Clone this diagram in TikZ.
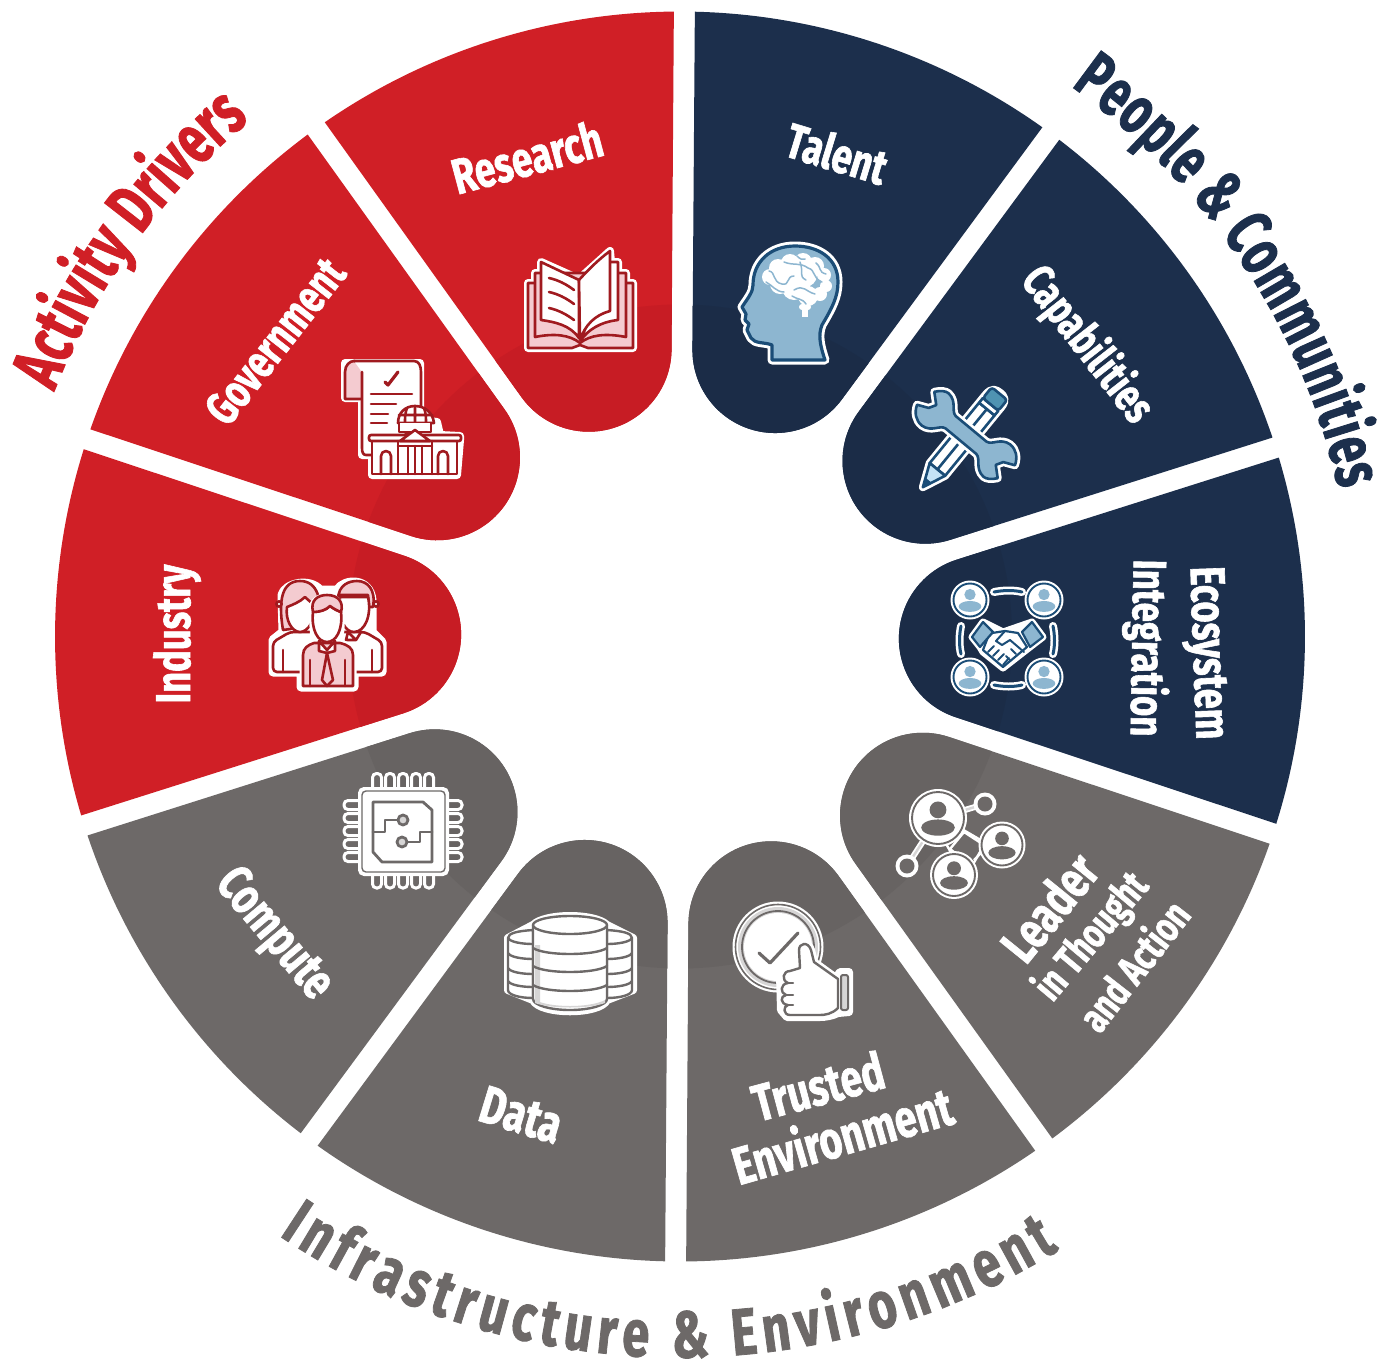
\documentclass[tikz,border=0pt]{standalone}
\usepackage{fontspec}
\newfontfamily\lab[FakeStretch=0.74,FakeBold=1.2]{Fira Sans}
\newfontfamily\labn[FakeStretch=0.68,FakeBold=1.2]{Fira Sans}
\usetikzlibrary{decorations.text,calc}
\definecolor{actred}{HTML}{D01F26}
\definecolor{actredin}{HTML}{C71C24}
\definecolor{navy}{HTML}{1C2F4C}
\definecolor{navyin}{HTML}{1B2C47}
\definecolor{gry}{HTML}{6D6968}
\definecolor{gryin}{HTML}{676362}
\definecolor{icred}{HTML}{A01A1F}
\definecolor{ictint}{HTML}{F4CBD0}
\definecolor{icblue}{HTML}{1B4D77}
\definecolor{iclight}{HTML}{8DB6D0}
\definecolor{icmid}{HTML}{4F93B2}
\definecolor{icpale}{HTML}{C5E3F6}
\definecolor{ictintg}{HTML}{D6D5D5}
\tikzset{
 hal/.style={draw=white,fill=white,line width=#1,line join=round,line cap=round},
 hal/.default=8,
 rl/.style={draw=icred,line width=2.6,line join=round,line cap=round},
 bl/.style={draw=icblue,line width=2.6,line join=round,line cap=round},
 gl/.style={draw=gry,line width=2.4,line join=round,line cap=round},
 lbl/.style={text=white,inner sep=0pt,font=\lab\bfseries\fontsize{#1}{#1}\selectfont},
 lbl/.default=50
}
\newcommand\petal[3]{%
 \pgfmathsetmacro\oa{#1+18-0.963}%
 \pgfmathsetmacro\ob{#1-18+0.963}%
 \pgfmathsetmacro\ca{#1-108}%
 \pgfmathsetmacro\cb{#1-252}%
 \fill[#2] (\oa:625) arc[start angle=\oa,end angle=\ob,radius=625] -- ($(#1:301.7)+(\ca:82.8)$) arc[start angle=\ca,end angle=\cb,radius=82.8] -- cycle;
 \begin{scope}
 \clip (\oa:625) arc[start angle=\oa,end angle=\ob,radius=625] -- ($(#1:301.7)+(\ca:82.8)$) arc[start angle=\ca,end angle=\cb,radius=82.8] -- cycle;
 \fill[#3] (0,0) circle[radius=332];
 \end{scope}}
% person in a ring: x y R ring-colour body-colour
\newcommand\ppl[5]{%
 \fill[white] (#1,#2) circle[radius=#3];
 \draw[#4,line width=1.9] (#1,#2) circle[radius=#3-3];
 \fill[#5] (#1,#2-0.28*#3) circle[radius=0.29*#3];
 \fill[#5] (#1,#2+0.33*#3) ellipse[x radius=0.58*#3,y radius=0.28*#3];}
\begin{document}
\begin{tikzpicture}[x=1pt,y=-1pt]
\useasboundingbox (0,0) rectangle (1393,1363);
\fill[white] (0,0) rectangle (1393,1363);
\begin{scope}[shift={(680,636.5)},y=1pt]
 \petal{107.6}{actred}{actredin}
 \petal{143.6}{actred}{actredin}
 \petal{179.6}{actred}{actredin}
 \petal{71.6}{navy}{navyin}
 \petal{35.6}{navy}{navyin}
 \petal{-0.4}{navy}{navyin}
 \petal{-36.4}{gry}{gryin}
 \petal{-72.4}{gry}{gryin}
 \petal{-108.4}{gry}{gryin}
 \petal{-144.4}{gry}{gryin}
 \path[decorate,decoration={text along path,text color=actred,text align={fit to path},
   text={|\labn\bfseries\fontsize{70}{70}\selectfont|Activity Drivers}}]
   (158.6:672) arc[start angle=158.6,end angle=129.8,radius=672];
 \path[decorate,decoration={text along path,text color=navy,text align={fit to path},
   text={|\labn\bfseries\fontsize{67}{67}\selectfont|People {\&} Communities}}]
   (54.6:675) arc[start angle=54.6,end angle=12.6,radius=675];
 \path[decorate,decoration={text along path,text color=gry,text align={fit to path},
   text={|\lab\bfseries\fontsize{66}{66}\selectfont|Infrastructure {\&} Environment}}]
   (-123.8:721) arc[start angle=-123.8,end angle=-58.3,radius=721];
\end{scope}
% wedge labels
\node[lbl,rotate=15] (research) at (527,157) {Research};
\node[lbl=49,rotate=-17] (talent) at (837,153) {Talent};
\node[lbl=47,rotate=52] (government) at (275,341) {Government};
\node[lbl=46,rotate=-52] (capabilities) at (1087,345) {Capabilities};
\node[lbl=49,rotate=-88] (ecosystem) at (1205,653) {Ecosystem};
\node[lbl=47,rotate=-91] (integration) at (1146,648) {Integration};
\node[lbl=49,rotate=90] (industry) at (177,634) {Industry};
\node[lbl=52,rotate=51] (leader) at (1049,907) {Leader};
\node[lbl=42,rotate=50] (thought) at (1092,937) {in Thought};
\node[lbl=42,rotate=52] (action) at (1133,965) {and Action};
\node[lbl=52,rotate=15] (trusted) at (818,1086) {Trusted};
\node[lbl=53,rotate=16] (environment) at (842,1134) {Environment};
\node[lbl=53,rotate=-17] (data) at (521,1115) {Data};
\node[lbl=51,rotate=-50] (compute) at (273,935) {Compute};
% ---- book
\path[hal] (528,283)--(535,283)--(535,273)--(541,273)--(541,262)--(579,279)--(610,251)--(611,262)--(618,262)--(618,273)--(626,273)--(626,283)--(633,283)--(633,348)--(528,348)--cycle;
\draw[rl,fill=ictint] (528,283)--(528,348)--(572,348)--(580,345)--(588,348)--(633,348)--(633,283)--cycle;
\draw[rl,fill=ictint] (535,273)--(535,337) .. controls (555,333) and (570,335) .. (580,343) .. controls (590,335) and (605,333) .. (626,337)--(626,273)--cycle;
\draw[rl,fill=white] (541,262)--(579,280)--(579,338) .. controls (570,325) and (555,322) .. (541,320)--cycle;
\draw[rl,fill=white] (610,262)--(618,262)--(618,320) .. controls (600,322) and (588,330) .. (581,340)--cycle;
\draw[rl,fill=white] (579,280) .. controls (588,270) and (598,260) .. (610,251)--(610,311) .. controls (595,315) and (585,325) .. (580,340)--cycle;
\draw[rl] (549,278) .. controls (558,280) and (566,284) .. (574,290);
\draw[rl] (549,292) .. controls (558,294) and (566,298) .. (574,304);
\draw[rl] (549,308) .. controls (558,310) and (566,314) .. (574,320);
% ---- head
\path[hal=9] (772,360)--(825,360) .. controls (820,345) and (818,335) .. (822,325) .. controls (832,308) and (838,297) .. (838,282) .. controls (838,258) and (818,246) .. (795,246) .. controls (770,246) and (753,262) .. (753,285) .. controls (753,292) and (748,298) .. (742,307) -- (746,314) -- (745,320) -- (749,324) -- (747,330) -- (751,338) .. controls (755,344) and (765,342) .. (772,345)--cycle;
\draw[bl,line width=3.2,fill=iclight] (772,360)--(825,360) .. controls (820,345) and (818,335) .. (822,325) .. controls (832,308) and (838,297) .. (838,282) .. controls (838,258) and (818,246) .. (795,246) .. controls (770,246) and (753,262) .. (753,285) .. controls (753,292) and (748,298) .. (742,307) -- (746,314) -- (745,320) -- (749,324) -- (747,330) -- (751,338) .. controls (755,344) and (765,342) .. (772,345)--cycle;
\fill[white] (770,277) circle[radius=8] (778,268) circle[radius=9] (790,263) circle[radius=9] (803,262) circle[radius=9] (815,266) circle[radius=9] (824,275) circle[radius=7] (826,286) circle[radius=6] (820,294) circle[radius=7] (808,296) circle[radius=10] (794,288) circle[radius=12] (780,284) circle[radius=10] (805,275) circle[radius=12] (785,274) circle[radius=9] (802,307) circle[radius=3] (808,307) circle[radius=3];
\fill[white] (802,300) rectangle (808,317);
\draw[iclight,line width=1.5,line cap=round] (769,271) .. controls (776,272) and (772,282) .. (782,284) .. controls (790,286) and (786,276) .. (794,276) (784,262) .. controls (794,266) and (800,262) .. (808,268) .. controls (816,270) and (812,278) .. (822,282) (794,290) .. controls (804,284) and (806,292) .. (815,294) (766,282) .. controls (772,285) and (776,292) .. (784,292) (800,262) .. controls (804,272) and (798,276) .. (806,280) (797,256) .. controls (800,259) and (802,260) .. (805,259) (792,296) .. controls (798,300) and (802,298) .. (806,304) (816,263) .. controls (822,268) and (818,272) .. (826,274);
% ---- document and building
\path[hal=8] (345,363)--(420,363)--(420,420)--(437,422)--(440,435)--(460,436)--(460,440)--(457,475)--(372,475)--(372,455)--(362,455)--(362,398)--(345,398)--cycle;
\draw[rl,fill=ictint] (345,372) .. controls (345,365) and (350,361) .. (354,361) .. controls (360,361) and (363,366) .. (363,372)--(363,399)--(345,399)--cycle;
\draw[rl,fill=white] (354,361)--(414,361) .. controls (419,361) and (421,366) .. (421,372) -- (421,425) -- (372,455) -- (366,455) .. controls (363,455) and (362,452) .. (362,448)--(362,372);
\draw[rl,line width=3.2] (385,382)--(388,385)--(398,372);
\draw[rl] (371,394)--(412,394) (371,404)--(396,404) (371,414)--(388,414) (371,423)--(387,423);
\draw[rl,fill=white] (398,423) .. controls (398,413) and (405,406) .. (415,406) .. controls (425,406) and (433,413) .. (434,423)--cycle;
\draw[rl] (415,406)--(415,423) (407,408) .. controls (405,413) and (405,418) .. (405,423) (424,408) .. controls (426,413) and (426,418) .. (426,423) (399,415)--(432,415);
\draw[rl,fill=white] (399,423)--(399,432)--(431,432)--(431,423);
\draw[rl,fill=white] (372,441)--(372,474)--(457,474)--(457,441)--cycle;
\draw[rl,fill=white,rounded corners=2] (369,435)--(461,435)--(461,441)--(369,441)--cycle;
\draw[rl,fill=white] (400,441)--(415,430)--(430,441)--cycle;
\draw[rl] (398,446)--(432,446) (398,441)--(398,474) (432,441)--(432,474) (408,446)--(408,474) (415,446)--(415,474) (422,446)--(422,474);
\draw[rl,rounded corners=5] (381,474)--(381,451)--(391,451)--(391,474);
\draw[rl,rounded corners=5] (438,474)--(438,451)--(448,451)--(448,474);
% ---- people
\path[hal=9] (273,672)--(273,640)--(283,632)--(282,595) .. controls (285,583) and (310,578) .. (320,590)--(337,590) .. controls (345,578) and (370,578) .. (372,600)--(372,632)--(382,642)--(382,672)--(354,672)--(354,687)--(301,687)--(301,672)--cycle;
\draw[rl,fill=white,rounded corners=4] (273,672)--(273,642)--(290,632)--(315,632)--(315,672)--cycle;
\draw[rl,fill=white,rounded corners=4] (382,672)--(382,642)--(365,632)--(340,632)--(340,672)--cycle;
\draw[rl] (283,650)--(283,672) (372,650)--(372,672);
\draw[rl,fill=ictint] (283,630) .. controls (278,600) and (282,581) .. (300,581) .. controls (318,581) and (322,600) .. (320,625)--cycle;
\draw[rl,fill=white] (287,607) .. controls (292,605) and (300,602) .. (305,597) .. controls (308,600) and (312,603) .. (314,605) .. controls (316,620) and (308,632) .. (300,632) .. controls (292,632) and (285,620) .. (287,607)--cycle;
\draw[rl,fill=ictint] (338,600) .. controls (338,584) and (350,581) .. (357,581) .. controls (368,581) and (376,590) .. (373,607)--(369,607)--(368,595)--(340,595)--cycle;
\draw[rl,fill=white] (340,597)--(368,597) .. controls (372,615) and (365,632) .. (354,632) .. controls (345,632) and (338,620) .. (340,597)--cycle;
\draw[rl] (348,632)--(356,640)--(361,632) (348,632)--(346,640)--(356,640);
\draw[rl,fill=white] (279,604) circle[radius=2.6] (376,604) circle[radius=2.6];
\path[hal=7] (303,686)--(303,655) .. controls (303,648) and (308,645) .. (314,643)--(312,610) .. controls (312,592) and (342,592) .. (342,612)--(340,643) .. controls (348,645) and (353,648) .. (353,655)--(353,686)--cycle;
\draw[rl,fill=ictint] (303,686)--(303,655) .. controls (303,648) and (308,645) .. (314,643)--(340,643) .. controls (348,645) and (353,648) .. (353,655)--(353,686)--cycle;
\draw[rl] (310,660)--(310,686) (345,660)--(345,686);
\draw[rl,fill=white] (319,641)--(327,650)--(335,641)--(335,651)--(327,653)--(319,651)--cycle;
\draw[rl,fill=ictint] (327,653)--(322,680)--(327,686)--(333,680)--cycle;
\draw[rl,fill=white] (313,612) .. controls (320,612) and (326,610) .. (330,606) .. controls (334,609) and (338,611) .. (341,612) .. controls (343,630) and (336,642) .. (327,642) .. controls (318,642) and (311,630) .. (313,612)--cycle;
\draw[rl,fill=ictint] (313,612) .. controls (310,600) and (318,595) .. (327,595) .. controls (338,595) and (344,602) .. (341,612) .. controls (338,611) and (334,609) .. (330,606) .. controls (326,610) and (320,612) .. (313,612)--cycle;
% ---- pencil
\begin{scope}[shift={(961.5,440)},rotate=50.7,y=1pt]
 \path[hal=8] (-61,0)--(-38,10)--(50,10) .. controls (60,10) and (61,5) .. (61,0) .. controls (61,-5) and (60,-10) .. (50,-10)--(-38,-10)--cycle;
 \draw[bl,fill=white] (-38,10)--(40,10)--(40,-10)--(-38,-10)--cycle;
 \draw[bl] (-38,0)--(40,0);
 \draw[bl,fill=icpale] (-38,10)--(-61,0)--(-38,-10)--cycle;
 \fill[icblue] (-61,0)--(-52,3.6)--(-52,-3.6)--cycle;
 \draw[bl,fill=white] (40,10)--(46,10)--(46,-10)--(40,-10)--cycle;
 \draw[bl,fill=icmid,rounded corners=3] (46,10)--(60,10)--(60,-10)--(46,-10)--cycle;
\end{scope}
% ---- wrench
\begin{scope}[shift={(966,435)},rotate=-39.7,y=1pt]
 \path[hal=8] (-20,8)--(20,8) .. controls (27,9) and (28,20) .. (40,21) .. controls (48,21) and (54,16) .. (57,8)--(46,3)--(42,-4)--(52,-13) .. controls (48,-18) and (44,-21) .. (40,-21) .. controls (28,-20) and (27,-9) .. (20,-8)--(-20,-8) .. controls (-27,-9) and (-28,-20) .. (-40,-21) .. controls (-48,-21) and (-54,-16) .. (-57,-8)--(-46,-3)--(-42,4)--(-52,13) .. controls (-48,18) and (-44,21) .. (-40,21) .. controls (-28,20) and (-27,9) .. (-20,8)--cycle;
 \draw[bl,fill=iclight] (-20,8)--(20,8) .. controls (27,9) and (28,20) .. (40,21) .. controls (48,21) and (54,16) .. (57,8)--(46,3)--(42,-4)--(52,-13) .. controls (48,-18) and (44,-21) .. (40,-21) .. controls (28,-20) and (27,-9) .. (20,-8)--(-20,-8) .. controls (-27,-9) and (-28,-20) .. (-40,-21) .. controls (-48,-21) and (-54,-16) .. (-57,-8)--(-46,-3)--(-42,4)--(-52,13) .. controls (-48,18) and (-44,21) .. (-40,21) .. controls (-28,20) and (-27,9) .. (-20,8)--cycle;
\end{scope}
% ---- handshake ring
\ppl{970}{600}{19.5}{icblue}{iclight}
\ppl{1044}{600}{19.5}{icblue}{iclight}
\ppl{970}{677}{19.5}{icblue}{iclight}
\ppl{1044}{677}{19.5}{icblue}{iclight}
\draw[white,line width=8,line cap=round] (994,592) .. controls (1004,590) and (1014,590) .. (1022,592) (994,685) .. controls (1004,687) and (1014,687) .. (1022,685) (961,626) .. controls (959,636) and (959,646) .. (961,654) (1053,626) .. controls (1055,636) and (1055,646) .. (1053,654);
\draw[icblue,line width=3,line cap=round] (994,592) .. controls (1004,590) and (1014,590) .. (1022,592) (994,685) .. controls (1004,687) and (1014,687) .. (1022,685) (961,626) .. controls (959,636) and (959,646) .. (961,654) (1053,626) .. controls (1055,636) and (1055,646) .. (1053,654);
\path[hal=7] (972,637)--(983,622)--(1003,632)--(1032,622)--(1043,637)--(1030,647)--(1003,668)--(983,652)--(980,647)--cycle;
\draw[bl,fill=white,line width=2.2] (988,637)--(983,650)--(1003,667)--(1027,647)--(1018,633)--(1005,631)--(992,633)--cycle;
\draw[bl,line width=2] (1005,631)--(996,641)--(1002,645)--(1010,640)--(1024,652) (988,652)--(994,646) (993,656)--(999,650) (998,660)--(1004,654) (1003,665)--(1009,658) (1010,660)--(1006,656) (1016,654)--(1011,649);
\draw[bl,fill=iclight,line width=2.2] (972,637)--(983,622)--(993,632)--(980,647)--cycle;
\draw[bl,fill=iclight,line width=2.2] (1022,632)--(1032,622)--(1043,637)--(1030,647)--cycle;
% ---- chip
\foreach \px in {377,390,403,416,429} {
 \draw[white,line width=3,rounded corners=4] (\px-4.5,792)--(\px-4.5,773.5)--(\px+4.5,773.5)--(\px+4.5,792);
 \draw[white,line width=3,rounded corners=4] (\px-4.5,870)--(\px-4.5,888)--(\px+4.5,888)--(\px+4.5,870);
}
\foreach \py in {805,818,831,844,857} {
 \draw[white,line width=3,rounded corners=4] (362,\py-4.5)--(344,\py-4.5)--(344,\py+4.5)--(362,\py+4.5);
 \draw[white,line width=3,rounded corners=4] (445,\py-4.5)--(462,\py-4.5)--(462,\py+4.5)--(445,\py+4.5);
}
\draw[white,fill=white,line width=2,rounded corners=5] (359,788)--(448,788)--(448,875)--(359,875)--cycle;
\draw[gry,line width=1.4,rounded corners=4] (362,791)--(445,791)--(445,872)--(362,872)--cycle;
\draw[gl,line width=2.8] (373,802)--(423,802)--(432,810)--(432,862)--(382,862)--(373,852)--cycle;
\draw[gl,line width=2.8] (403,820)--(385,820)--(385,832)--(373,832) (402,842)--(420,842)--(420,832)--(432,832);
\draw[gl,fill=ictintg,line width=2.8] (403,820) circle[radius=5] (402,842) circle[radius=5];
% ---- database
\path[hal=8] (508,938)--(533,925) .. controls (545,913) and (595,913) .. (607,925)--(633,938)--(633,990)--(607,1000) .. controls (600,1015) and (540,1015) .. (533,1000)--(508,990)--cycle;
\draw[gl,fill=white] (533,930) .. controls (518,931) and (508,933) .. (508,938)--(508,990) .. controls (508,995) and (520,998) .. (533,998)--cycle;
\draw[gl,fill=white] (607,930) .. controls (622,931) and (632,933) .. (632,938)--(632,990) .. controls (632,995) and (620,998) .. (607,998)--cycle;
\draw[gl] (508,938) .. controls (510,942) and (522,944) .. (533,944) (632,938) .. controls (630,942) and (618,944) .. (607,944) (508,953) .. controls (510,957) and (522,959) .. (533,959) (632,953) .. controls (630,957) and (618,959) .. (607,959) (508,968) .. controls (510,972) and (522,974) .. (533,974) (632,968) .. controls (630,972) and (618,974) .. (607,974) (508,981) .. controls (510,985) and (522,987) .. (533,987) (632,981) .. controls (630,985) and (618,987) .. (607,987);
\draw[gl,fill=white] (533,925)--(533,999) .. controls (533,1005) and (550,1010) .. (570,1010) .. controls (590,1010) and (607,1005) .. (607,999)--(607,925)--cycle;
\fill[ictintg] (535,945)--(540,945)--(540,1003)--(535,1000)--cycle;
\fill[ictintg] (535,1000) .. controls (550,1008) and (590,1008) .. (605,1000)--(605,1003) .. controls (590,1009) and (550,1009) .. (535,1003)--cycle;
\draw[gl,fill=white] (570,925) ellipse[x radius=37,y radius=9];
\draw[gl] (533,948) .. controls (545,956) and (595,956) .. (607,948) (533,966) .. controls (545,974) and (595,974) .. (607,966) (533,985) .. controls (545,993) and (595,993) .. (607,985);
% ---- trusted
\fill[white] (778,947) circle[radius=45.5];
\draw[gry,line width=1.6] (778,947) circle[radius=42.5];
\fill[ictintg] (778,947) circle[radius=40];
\draw[gry,line width=1.8] (778,947) circle[radius=36];
\fill[white] (778,947) circle[radius=34];
\draw[gl,line width=3.2] (759,953)--(770,963)--(798,933);
\path[hal=8] (799,950) .. controls (799,943) and (808,941) .. (811,950)--(814,962)--(836,978)--(840,972)--(849,972)--(849,1012)--(838,1013) .. controls (832,1016) and (825,1017) .. (820,1017)--(787,1017)--(781,1010)--(780,975)--(800,968)--cycle;
\draw[gl,fill=white] (800,968)--(799,950) .. controls (799,943) and (808,941) .. (811,950)--(814,962)--(838,979)--(838,1008) .. controls (832,1014) and (825,1015) .. (820,1015)--(790,1015) .. controls (783,1015) and (783,1006) .. (788,1005) .. controls (780,1004) and (780,996) .. (786,995) .. controls (780,993) and (780,984) .. (788,983) .. controls (781,980) and (783,971) .. (790,971)--cycle;
\draw[gl] (788,983)--(793,983) (786,995)--(793,995) (788,1005)--(793,1005);
\draw[white,fill=white,line width=2,rounded corners=3] (841,973)--(848,973)--(848,1012)--(841,1012)--cycle;
\draw[gl,fill=ictintg,line width=2,rounded corners=2] (841,975)--(848,975)--(848,1010)--(841,1010)--cycle;
% ---- network
\draw[white,line width=6] (938,818)--(985,804) (938,818)--(907,866);
\draw[ictintg,line width=2.4] (938,818)--(985,804) (938,818)--(907,866);
\draw[white,line width=2.4,line join=round] (964,832)--(984,845)--(972,866)--(950,849)--cycle;
\draw[white,line width=2.4] (960,828)--(984,842) (984,850)--(974,860) (945,842)--(953,856);
\fill[white] (985,804) circle[radius=11.5];
\fill[gry] (985,804) circle[radius=7.5];
\fill[white] (907,866) circle[radius=11.5];
\fill[gry] (907,866) circle[radius=7.5];
\ppl{938}{818}{29}{gry}{gry}
\ppl{1002}{845}{23.5}{gry}{gry}
\ppl{954}{875}{24}{gry}{gry}
\end{tikzpicture}
\end{document}
